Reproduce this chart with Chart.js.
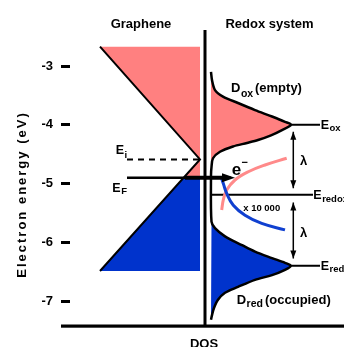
<!DOCTYPE html>
<html>
<head>
<meta charset="utf-8">
<script src="https://cdn.jsdelivr.net/npm/chart.js@4.4.1/dist/chart.umd.min.js"></script>
<style>
  html, body { margin: 0; padding: 0; background: #fff; }
</style>
</head>
<body>
<canvas id="myChart" width="344" height="347"></canvas>
<script>
// energy axis (eV)
const energyTicks = [-7, -6, -5, -4, -3];
const energyRange = [-7.4255, -2.387];
// DOS axis, arbitrary units, 0 = the middle axis
const dosRange = [-135, 139];

// levels
const E_i = -4.59;
const E_F = -4.90;
const E_ox = -4.00;
const E_redox = -5.19;
const E_red = -6.40;

// graphene cone, DOS grows to the left
const coneEnergy = [-2.67, E_i, -6.49];
const coneDos = [100, 0, 100];

// redox system DOS
const oxEnergy = [-3.10, -3.24, -3.41, -3.52, -3.63, -3.75, -3.86, -3.95, -4.00, -4.09, -4.18, -4.26, -4.31, -4.37, -4.46, -4.57, -4.72, -4.86];
const oxDos = [0, 1, 4, 12, 27, 44, 61, 74, 80, 71, 60, 47, 36, 22, 9, 2, 0.5, 0];
const redEnergy = [-5.65, -5.76, -5.90, -6.05, -6.16, -6.27, -6.35, -6.40, -6.47, -6.56, -6.64, -6.76, -6.86, -6.98, -7.12, -7.24, -7.32];
const redDos = [0.5, 4, 14, 31, 44, 61, 74, 80, 74, 61, 44, 27, 14, 7, 3, 1, 0];

// transfer curves (x 10 000)
const rateOxEnergy = [-5.45, -5.28, -5.11, -4.94, -4.80, -4.685, -4.57];
const rateOxValue = [10.7, 12.3, 15.7, 24, 37.3, 54, 75.7];
const rateRedEnergy = [-4.92, -5.00, -5.17, -5.37, -5.54, -5.68, -5.79];
const rateRedValue = [10.7, 12.3, 15.7, 22.3, 34, 50.7, 74];

const PINK = "#ff8080";
const BLUE = "#0033cc";
const FONT = '"Liberation Sans", Arial, Helvetica, sans-serif';

const grapheneGap = 5;
const redoxGap = 6;
const levelStart = 86.7;
const levelEnd = 115;
const redoxEnd = 108;
const lambdaX = 88.3;
const eFStart = -78;
const eFTip = 30;

const gX = d => -(grapheneGap + d);
const rX = d => redoxGap + d;

// graphene DOS where the cone meets E_F
const dosAtEF = coneDos[2] * (E_i - E_F) / (E_i - coneEnergy[2]);

const line = (data, opts) =>
  Object.assign(
    { data: data, borderColor: "#000", borderWidth: 2, pointRadius: 0, fill: false, tension: 0 },
    opts
  );
const area = (data, color, tension) =>
  line(data, { borderColor: "transparent", borderWidth: 0, backgroundColor: color, fill: "shape", tension: tension || 0 });

const oxPoints = oxEnergy.map((e, i) => ({ x: rX(oxDos[i]), y: e }));
const redPoints = redEnergy.map((e, i) => ({ x: rX(redDos[i]), y: e }));

// bottom first, reversed below so the last one is drawn on top
let datasets = [
  area([
    { x: gX(coneDos[0]), y: coneEnergy[0] },
    { x: gX(0), y: coneEnergy[0] },
    { x: gX(0), y: E_F },
    { x: gX(dosAtEF), y: E_F },
    { x: gX(0), y: E_i }
  ], PINK),
  area([
    { x: gX(dosAtEF), y: E_F },
    { x: gX(0), y: E_F },
    { x: gX(0), y: coneEnergy[2] },
    { x: gX(coneDos[2]), y: coneEnergy[2] }
  ], BLUE),
  area(oxPoints, PINK, 0.3),
  area(redPoints, BLUE, 0.3),
  line(coneEnergy.map((e, i) => ({ x: gX(coneDos[i]), y: e })), { borderWidth: 2 }),
  line(oxPoints.concat(redPoints), { borderWidth: 2.5, tension: 0.3 }),
  line([{ x: 0, y: energyRange[1] }, { x: 0, y: energyRange[0] }], { borderWidth: 3 }),
  line([{ x: eFStart, y: E_i }, { x: gX(0), y: E_i }], { borderWidth: 2, borderDash: [6, 5] }),
  line([{ x: rX(0.7), y: E_redox }, { x: redoxEnd, y: E_redox }], { borderWidth: 2 }),
  line([{ x: levelStart, y: E_ox }, { x: levelEnd, y: E_ox }], { borderWidth: 2 }),
  line([{ x: levelStart, y: E_red }, { x: levelEnd, y: E_red }], { borderWidth: 2 }),
  line([{ x: lambdaX, y: E_ox - 0.12 }, { x: lambdaX, y: E_redox + 0.11 }], { borderWidth: 1.5 }),
  line([{ x: lambdaX, y: E_redox - 0.135 }, { x: lambdaX, y: E_red + 0.125 }], { borderWidth: 1.5 }),
  line(rateOxEnergy.map((e, i) => ({ x: rX(rateOxValue[i]), y: e })), { borderColor: "#ff8a8a", borderWidth: 3, tension: 0.4 }),
  line(rateRedEnergy.map((e, i) => ({ x: rX(rateRedValue[i]), y: e })), { borderColor: "#1040d0", borderWidth: 3, tension: 0.4 }),
  line([{ x: eFStart, y: E_F }, { x: eFTip - 4, y: E_F }], { borderWidth: 2.5 }),
  line([{ x: -20, y: E_F }, { x: eFTip - 8, y: E_F }], { borderWidth: 4 })
];
datasets = datasets.reverse();

function arrowHead(ctx, tx, ty, dx, dy, len, half) {
  ctx.beginPath();
  ctx.moveTo(tx, ty);
  ctx.lineTo(tx - dx * len - dy * half, ty - dy * len + dx * half);
  ctx.lineTo(tx - dx * len + dy * half, ty - dy * len - dx * half);
  ctx.closePath();
  ctx.fill();
}

function label(ctx, main, sub, x0, base, size, subSize, drop) {
  ctx.font = "bold " + size + "px " + FONT;
  ctx.textAlign = "left";
  ctx.fillText(main, x0, base);
  if (sub) {
    const w = ctx.measureText(main).width;
    ctx.font = "bold " + subSize + "px " + FONT;
    ctx.fillText(sub, x0 + w + 0.5, base + drop);
  }
}

const decorations = {
  id: "decorations",
  afterDraw(chart) {
    const ctx = chart.ctx;
    const xs = chart.scales.x;
    const ys = chart.scales.y;
    const px = v => xs.getPixelForValue(v);
    const py = e => ys.getPixelForValue(e);
    ctx.save();
    ctx.fillStyle = "#000";
    ctx.textBaseline = "alphabetic";

    // bottom axis line
    ctx.fillRect(xs.left - 9, py(energyRange[0]) - 1.5, xs.right - xs.left + 9, 3.2);

    // arrow heads
    arrowHead(ctx, px(eFTip), py(E_F), 1, 0, 13, 4.5);
    arrowHead(ctx, px(lambdaX), py(E_ox - 0.12), 0, -1, 8, 3);
    arrowHead(ctx, px(lambdaX), py(E_redox + 0.11), 0, 1, 8, 3);
    arrowHead(ctx, px(lambdaX), py(E_redox - 0.135), 0, -1, 8, 3);
    arrowHead(ctx, px(lambdaX), py(E_red + 0.125), 0, 1, 8, 3);

    // headings
    ctx.font = "bold 13px " + FONT;
    ctx.textAlign = "center";
    ctx.fillText("Graphene", px(-64), py(energyRange[1]) - 2.5);
    ctx.fillText("Redox system", px(64.5), py(energyRange[1]) - 2.5);
    ctx.fillText("DOS", px(-1), py(energyRange[0]) + 22);

    // axis title
    ctx.save();
    ctx.translate(26.3, 194.5);
    ctx.rotate(-Math.PI / 2);
    ctx.letterSpacing = "2px";
    ctx.fillText("Electron energy (eV)", 0, 0);
    ctx.restore();

    // level labels
    label(ctx, "E", "i", px(-89.3), py(E_i) - 5, 12.5, 9.5, 4);
    label(ctx, "E", "F", px(-92.7), py(E_F) + 14, 12.5, 9.5, 2);
    label(ctx, "E", "ox", px(levelEnd) + 0.7, py(E_ox) + 4, 12.5, 9.5, 2);
    label(ctx, "E", "redox", px(redoxEnd) + 0.3, py(E_redox) + 4, 12.5, 9.5, 3);
    label(ctx, "E", "red", px(levelEnd) + 0.7, py(E_red) + 4.5, 12.5, 9.5, 2);

    label(ctx, "D", "ox", px(26), py(-3.45), 13, 10.5, 4.5);
    ctx.font = "bold 13px " + FONT;
    ctx.fillText("(empty)", px(50), py(-3.45));
    label(ctx, "D", "red", px(31.7), py(-7.05), 13, 10.5, 3.5);
    ctx.font = "bold 13px " + FONT;
    ctx.fillText("(occupied)", px(60), py(-7.05));

    // electron
    ctx.font = "bold 17px " + FONT;
    ctx.fillText("e", px(26.7), py(E_F) - 3);
    ctx.font = "bold 11px " + FONT;
    ctx.fillText("\u2212", px(36.5), py(E_F) - 11.5);

    ctx.font = "bold 9.5px " + FONT;
    ctx.textAlign = "center";
    ctx.fillText("x 10 000", px(56.7), py(E_redox) + 16);

    ctx.font = "bold 13px " + FONT;
    ctx.textAlign = "left";
    ctx.fillText("\u03bb", px(95), py((E_ox + E_redox) / 2) + 5);
    ctx.fillText("\u03bb", px(95), py((E_redox + E_red) / 2) + 7);

    ctx.restore();
  }
};

Chart.defaults.font.family = FONT;
Chart.defaults.color = "#000";

const ctx = document.getElementById("myChart").getContext("2d");
const chart = new Chart(ctx, {
  type: "line",
  data: { datasets: datasets },
  options: {
    responsive: false,
    animation: false,
    devicePixelRatio: 1,
    layout: { padding: { top: 30, bottom: 21, left: 0, right: 0 } },
    plugins: { legend: { display: false }, tooltip: { enabled: false } },
    scales: {
      x: { type: "linear", min: dosRange[0], max: dosRange[1], display: false },
      y: {
        type: "linear",
        min: energyRange[0],
        max: energyRange[1],
        afterBuildTicks: scale => {
          scale.ticks = energyTicks.map(v => ({ value: v }));
        },
        afterFit: scale => {
          scale.width = 70;
        },
        border: { display: false },
        grid: { drawOnChartArea: false, drawTicks: true, tickLength: 9, tickWidth: 3, tickColor: "#000" },
        ticks: { padding: 8, font: { size: 13, weight: "bold" }, color: "#000" }
      }
    }
  },
  plugins: [decorations]
});
</script>
</body>
</html>
